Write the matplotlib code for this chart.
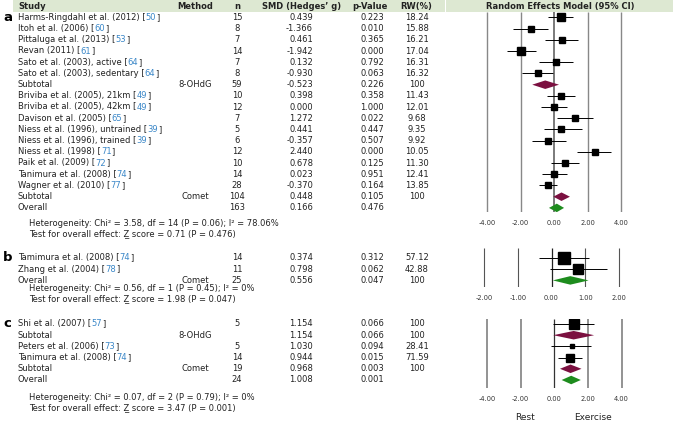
import matplotlib
matplotlib.use('Agg')
import matplotlib.pyplot as plt
from matplotlib.patches import Rectangle

plt.rcParams['font.family'] = 'DejaVu Sans'

# ---- panel a ----
a_study = ["Harms-Ringdahl et al. (2012)", "Itoh et al. (2006)", "Pittaluga et al. (2013)",
           "Revan (2011)", "Sato et al. (2003), active", "Sato et al. (2003), sedentary",
           "Subtotal", "Briviba et al. (2005), 21km", "Briviba et al. (2005), 42km",
           "Davison et al. (2005)", "Niess et al. (1996), untrained", "Niess et al. (1996), trained",
           "Niess et al. (1998)", "Paik et al. (2009)", "Tanimura et al. (2008)",
           "Wagner et al. (2010)", "Subtotal", "Overall"]
a_ref = ["50", "60", "53", "61", "64", "64", None, "49", "49", "65", "39", "39", "71", "72", "74",
         "77", None, None]
a_method = [""] * 6 + ["8-OHdG"] + [""] * 9 + ["Comet", ""]
a_n = [15, 8, 7, 14, 7, 8, 59, 10, 12, 7, 5, 6, 12, 10, 14, 28, 104, 163]
a_smd = [0.439, -1.366, 0.461, -1.942, 0.132, -0.930, -0.523, 0.398, 0.000, 1.272, 0.441,
         -0.357, 2.440, 0.678, 0.023, -0.370, 0.448, 0.166]
a_lo = [-0.36, -2.44, -0.54, -2.80, -0.90, -1.90, -1.30, -0.40, -0.80, 0.18, -0.60, -1.30,
        1.40, -0.16, -0.73, -0.87, -0.04, -0.30]
a_hi = [1.13, -0.36, 1.43, -1.07, 1.13, -0.05, 0.30, 1.25, 0.75, 2.30, 1.66, 0.70, 3.40,
        1.50, 0.77, 0.18, 0.95, 0.60]
a_p = [0.223, 0.010, 0.365, 0.000, 0.792, 0.063, 0.226, 0.358, 1.000, 0.022, 0.447, 0.507,
       0.000, 0.125, 0.951, 0.164, 0.105, 0.476]
a_rw = [18.24, 15.88, 16.21, 17.04, 16.31, 16.32, 100, 11.43, 12.01, 9.68, 9.35, 9.92, 10.05,
        11.30, 12.41, 13.85, 100, None]
a_kind = ["s"] * 6 + ["sub"] + ["s"] * 9 + ["sub", "all"]
a_ticks = [-4, -2, 0, 2, 4]
a_het = ["Heterogeneity: Chi\u00b2 = 3.58, df = 14 (P = 0.06); I\u00b2 = 78.06%",
         "Test for overall effect: Z\u0332 score = 0.71 (P = 0.476)"]

# ---- panel b ----
b_study = ["Tamimura et al. (2008)", "Zhang et al. (2004)", "Overall"]
b_ref = ["74", "78", None]
b_method = ["", "", "Comet"]
b_n = [14, 11, 25]
b_smd = [0.374, 0.798, 0.556]
b_lo = [-0.36, -0.05, 0.04]
b_hi = [1.10, 1.65, 1.10]
b_p = [0.312, 0.062, 0.047]
b_rw = [57.12, 42.88, 100]
b_kind = ["s", "s", "all"]
b_ticks = [-2, -1, 0, 1, 2]
b_het = ["Heterogeneity: Chi\u00b2 = 0.56, df = 1 (P = 0.45); I\u00b2 = 0%",
         "Test for overall effect: Z\u0332 score = 1.98 (P = 0.047)"]

# ---- panel c ----
c_study = ["Shi et al. (2007)", "Subtotal", "Peters et al. (2006)", "Tanimura et al. (2008)",
           "Subtotal", "Overall"]
c_ref = ["57", None, "73", "74", None, None]
c_method = ["", "8-OHdG", "", "", "Comet", ""]
c_n = [5, None, 5, 14, 19, 24]
c_smd = [1.154, 1.154, 1.030, 0.944, 0.968, 1.008]
c_lo = [-0.06, -0.06, -0.20, 0.20, 0.34, 0.44]
c_hi = [2.37, 2.37, 2.20, 1.68, 1.62, 1.58]
c_p = [0.066, 0.066, 0.094, 0.015, 0.003, 0.001]
c_rw = [100, 100, 28.41, 71.59, 100, None]
c_kind = ["s", "sub", "s", "s", "sub", "all"]
c_ticks = [-4, -2, 0, 2, 4]
c_het = ["Heterogeneity: Chi\u00b2 = 0.07, df = 2 (P = 0.79); I\u00b2 = 0%",
         "Test for overall effect: Z\u0332 score = 3.47 (P = 0.001)"]

W, H = 677, 423
FS = 6.0
TXT = '#222222'
BLUE = '#3a87c8'
GREEN_BG = '#dde8d2'
SUB_COL = '#7b1040'
ALL_COL = '#1e8c1e'
RH = 11.2

fig = plt.figure(figsize=(W / 100, H / 100), dpi=100)
bg = fig.add_axes([0, 0, 1, 1])
bg.set_xlim(0, W)
bg.set_ylim(H, 0)
bg.axis('off')
renderer = fig.canvas.get_renderer()

# header
bg.add_patch(Rectangle((13, 0), 432, 12.5, color=GREEN_BG, lw=0))
bg.add_patch(Rectangle((446, 0), 227, 12.5, color=GREEN_BG, lw=0))
hy = 8.8
hkw = dict(fontsize=FS, fontweight='bold', color=TXT, va='baseline')
bg.text(18, hy, "Study", ha='left', **hkw)
bg.text(195, hy, "Method", ha='center', **hkw)
bg.text(237, hy, "n", ha='center', **hkw)
bg.text(302, hy, "SMD (Hedges\u2019 g)", ha='center', **hkw)
bg.text(370, hy, "p-Value", ha='center', **hkw)
bg.text(416, hy, "RW(%)", ha='center', **hkw)
bg.text(560, hy, "Random Effects Model (95% CI)", ha='center', **hkw)


def study_text(x, y, name, ref):
    kw = dict(fontsize=FS, color=TXT, va='baseline', ha='left')
    if ref is None:
        bg.text(x, y, name, **kw)
        return
    t = bg.text(x, y, name + " [", **kw)
    w = t.get_window_extent(renderer).width
    t2 = bg.text(x + w, y, ref, **dict(kw, color=BLUE))
    w2 = t2.get_window_extent(renderer).width
    bg.text(x + w + w2, y, "]", **kw)


def draw_panel(label, y0, study, ref, method, n, smd, lo, hi, p, rw, kind,
               ticks, het, het_y, ax_x, ax_y, grid, msk):
    kw = dict(fontsize=FS, color=TXT, va='baseline')
    ys = [y0 + i * RH for i in range(len(study))]
    bg.text(3, ys[0] + 3.4, label, fontsize=9.5, fontweight='bold', color='black', va='baseline')
    for i, y in enumerate(ys):
        yb = y + 2.4
        study_text(18, yb, study[i], ref[i])
        if method[i]:
            bg.text(195, yb, method[i], ha='center', **kw)
        if n[i] is not None:
            bg.text(237, yb, str(n[i]), ha='center', **kw)
        bg.text(313, yb, "%.3f" % smd[i], ha='right', **kw)
        bg.text(372, yb, "%.3f" % p[i], ha='center', **kw)
        if rw[i] is not None:
            s = "100" if rw[i] == 100 else "%.2f" % rw[i]
            bg.text(417, yb, s, ha='center', **kw)
    for j, s in enumerate(het):
        bg.text(29, het_y[j] + 2.4, s, ha='left', **kw)

    # forest axes, rows in index units; pixel span given for the outer ticks
    px0, px1 = ax_x
    top, bot = ax_y
    span = ticks[-1] - ticks[0]
    scale = (px1 - px0) / span
    m = 0.1 * span
    ax = fig.add_axes([(px0 - m * scale) / W, 1 - bot / H,
                       (px1 - px0 + 2 * m * scale) / W, (bot - top) / H])
    ax.set_xlim(ticks[0] - m, ticks[-1] + m)
    ylo, yhi = (bot - y0) / RH, (top - y0) / RH
    ax.set_ylim(ylo, yhi)
    ax.patch.set_alpha(0)
    for sp in ax.spines.values():
        sp.set_visible(False)
    gc, glw, zc, zlw = grid
    others = [t for t in ticks if t != 0]
    ax.vlines(others, yhi, ylo, color=gc, lw=glw, zorder=1)
    ax.vlines([0], yhi, ylo, color=zc, lw=zlw, zorder=1)
    ax.set_xticks(ticks)
    ax.set_xticklabels(["%.2f" % t for t in ticks])
    ax.tick_params(axis='x', length=0, pad=6.0, labelsize=4.8, labelcolor='#333333')
    ax.set_yticks([])
    for i in range(len(study)):
        if kind[i] == "s":
            ax.hlines(i, lo[i], hi[i], color='black', lw=0.7, zorder=2)
            ms = msk * rw[i] ** 0.5 * 0.72
            ax.plot(smd[i], i, 's', ms=ms, color='black', zorder=3)
        else:
            col = SUB_COL if kind[i] == "sub" else ALL_COL
            ax.fill([lo[i], smd[i], hi[i], smd[i]], [i, i - 0.38, i, i + 0.38],
                    color=col, lw=0, zorder=3)
    return ax


draw_panel("a", 17.5, a_study, a_ref, a_method, a_n, a_smd, a_lo, a_hi, a_p, a_rw, a_kind,
           a_ticks, a_het, [224, 234], (487, 621), (12, 212),
           ('#888888', 1.0, '#707070', 1.3), 1.71)
draw_panel("b", 258, b_study, b_ref, b_method, b_n, b_smd, b_lo, b_hi, b_p, b_rw, b_kind,
           b_ticks, b_het, [288.5, 298.5], (484, 619), (248, 287),
           ('#555555', 0.8, '#222222', 0.9), 1.55)
draw_panel("c", 324, c_study, c_ref, c_method, c_n, c_smd, c_lo, c_hi, c_p, c_rw, c_kind,
           c_ticks, c_het, [398, 408], (487, 621.5), (319, 388),
           ('#808080', 1.2, '#333333', 0.9), 0.93)

bg.text(525, 417, "Rest", ha='center', va='center', fontsize=6.5, color=TXT)
bg.text(593, 417, "Exercise", ha='center', va='center', fontsize=6.5, color=TXT)

fig.savefig('out.png', dpi=100)
